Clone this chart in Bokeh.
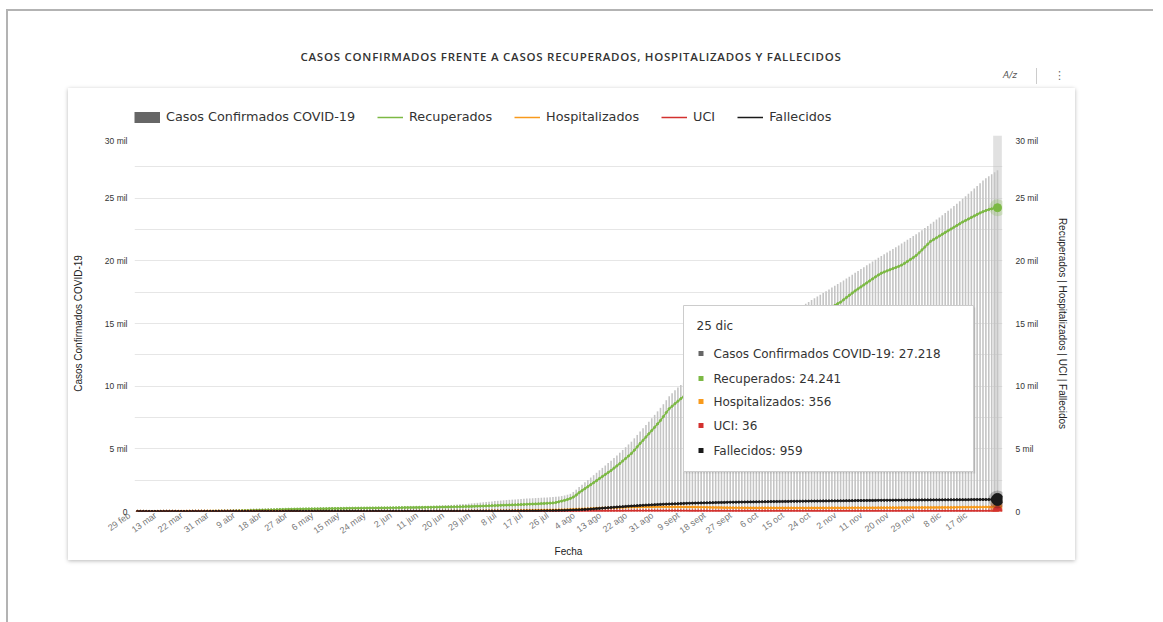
import pandas as pd
from bokeh.plotting import figure
from bokeh.models import (Range1d, LinearAxis, FixedTicker, CustomJSTickFormatter, Legend,
                          LegendItem, BoxAnnotation, Label, Div, ColumnDataSource)
from bokeh.layouts import column
from bokeh.embed import file_html
from bokeh.resources import INLINE

# ---------------- data ----------------
MESES = {1: "ene", 2: "feb", 3: "mar", 4: "abr", 5: "may", 6: "jun", 7: "jul",
         8: "ago", 9: "sept", 10: "oct", 11: "nov", 12: "dic"}
fechas = ["29 feb"] + [f"{d.day} {MESES[d.month]}" for d in pd.date_range("2020-03-05", "2020-12-25")]

confirmados = (
    [1, 1, 2, 2, 3, 5, 6, 8, 10, 12, 15, 18, 22, 26, 31, 36, 42, 48, 55, 62, 70, 78, 86, 95, 104, 112, 121, 130]
    + [138, 146, 153, 160, 168, 175, 181, 187, 193, 199, 205, 210, 215, 220, 225, 229, 233, 237, 241, 245,
       248, 251, 254, 257, 260, 263, 265, 268, 270, 272]
    + [274, 276, 278, 280, 282, 284, 286, 288, 290, 292, 294, 296, 298, 300, 302, 304, 306, 308, 310, 313,
       316, 319, 322, 325, 328, 331, 334, 338, 342, 346, 350]
    + [355, 360, 366, 372, 378, 385, 392, 400, 408, 416, 425, 434, 444, 454, 465, 476, 488, 500, 513, 527,
       541, 556, 572, 589, 607, 626, 646, 667, 689, 712]
    + [735, 758, 782, 806, 830, 852, 873, 893, 912, 930, 948, 965, 982, 998, 1013, 1028, 1043, 1057, 1071, 1085,
       1099, 1112, 1125, 1138, 1152, 1170, 1195, 1230, 1280, 1340, 1410]
    + [1560, 1740, 1950, 2140, 2330, 2520, 2710, 2900, 3090, 3290, 3480, 3670, 3860, 4050, 4260, 4470, 4690,
       4910, 5130, 5350, 5570, 5840, 6110, 6380, 6640, 6900, 7170, 7440, 7710, 7990, 8270]
    + [8560, 8880, 9200, 9440, 9670, 9890, 10100, 10290, 10470, 10650, 10820, 10980, 11140, 11300, 11460,
       11620, 11770, 11920, 12070, 12220, 12370, 12520, 12670, 12820, 12970, 13120, 13270, 13420, 13570, 13720]
    + [13870, 14010, 14160, 14300, 14440, 14580, 14720, 14870, 15010, 15150, 15290, 15440, 15580, 15720, 15860,
       16010, 16150, 16290, 16440, 16580, 16720, 16870, 17010, 17150, 17290, 17440, 17580, 17720, 17870, 18010, 18150]
    + [18290, 18440, 18590, 18740, 18890, 19040, 19190, 19340, 19490, 19640, 19790, 19940, 20090, 20240, 20390,
       20530, 20670, 20810, 20950, 21090, 21230, 21380, 21530, 21680, 21830, 21980, 22130, 22290, 22450, 22610]
    + [22780, 22950, 23120, 23290, 23460, 23640, 23820, 24000, 24180, 24370, 24560, 24750, 24950, 25150, 25350,
       25560, 25770, 25980, 26190, 26400, 26580, 26750, 26910, 27070, 27218]
)

recuperados = (
    [0, 0, 0, 0, 0, 0, 0, 0, 0, 0, 0, 0, 0, 0, 0, 1, 1, 2, 3, 4, 5, 6, 8, 10, 12, 15, 18, 21]
    + [25, 29, 33, 38, 43, 48, 54, 60, 66, 72, 78, 85, 92, 99, 106, 113, 120, 127, 134, 141,
       148, 155, 161, 167, 173, 179, 185, 190, 195, 200]
    + [204, 208, 212, 216, 220, 223, 226, 229, 232, 235, 238, 241, 244, 247, 250, 253, 256, 259, 262, 265,
       268, 271, 274, 277, 280, 283, 286, 289, 292, 295, 298]
    + [301, 304, 307, 310, 313, 316, 319, 322, 325, 328, 331, 334, 337, 340, 344, 348, 352, 356, 360, 365,
       370, 375, 380, 386, 392, 398, 405, 412, 420, 428]
    + [436, 445, 454, 463, 472, 481, 490, 499, 508, 517, 526, 535, 545, 555, 565, 575, 585, 596, 607, 618,
       630, 642, 655, 668, 682, 720, 770, 830, 890, 960, 1040]
    + [1150, 1310, 1500, 1660, 1820, 1980, 2140, 2300, 2460, 2630, 2790, 2950, 3110, 3270, 3460, 3640, 3830,
       4030, 4230, 4430, 4630, 4890, 5160, 5430, 5680, 5940, 6200, 6460, 6720, 6990, 7260]
    + [7570, 7890, 8200, 8400, 8600, 8800, 9000, 9170, 9330, 9500, 9650, 9800, 9950, 10100, 10250,
       10400, 10540, 10680, 10820, 10960, 11100, 11240, 11380, 11520, 11660, 11800, 11940, 12080, 12220, 12360]
    + [12490, 12620, 12760, 12890, 13020, 13160, 13290, 13430, 13560, 13700, 13830, 13970, 14100, 14240, 14370,
       14510, 14640, 14780, 14920, 15050, 15190, 15320, 15460, 15600, 15740, 15880, 16020, 16160, 16300, 16440, 16580]
    + [16700, 16890, 17070, 17250, 17430, 17600, 17760, 17920, 18080, 18240, 18400, 18560, 18720, 18870, 19010,
       19110, 19200, 19290, 19380, 19470, 19560, 19660, 19800, 19950, 20100, 20250, 20420, 20640, 20870, 21100]
    + [21330, 21560, 21700, 21840, 21980, 22120, 22260, 22400, 22540, 22680, 22820, 22960, 23100, 23220, 23340,
       23460, 23580, 23700, 23820, 23920, 24010, 24090, 24150, 24200, 24241]
)

hospitalizados = (
    [0, 0, 0, 0, 1, 1, 2, 2, 3, 4, 5, 6, 7, 8, 10, 11, 12, 14, 15, 16, 18, 19, 20, 21, 22, 23, 24, 25]
    + [26, 26, 27, 27, 28, 28, 28, 27, 27, 26, 26, 25, 24, 23, 22, 21, 20, 19, 18, 17, 16, 15, 14, 13, 12,
       12, 11, 10, 10, 9]
    + [9, 8, 8, 7, 7, 7, 6, 6, 6, 5, 5, 5, 5, 4, 4, 4, 4, 4, 4, 5, 5, 5, 5, 6, 6, 6, 6, 7, 7, 7, 8]
    + [8, 8, 9, 9, 10, 10, 11, 11, 12, 12, 13, 14, 14, 15, 16, 17, 18, 19, 20, 21, 22, 23, 24, 26, 28,
       30, 32, 34, 36, 38]
    + [40, 42, 44, 46, 48, 50, 52, 54, 56, 58, 61, 64, 67, 70, 73, 76, 79, 82, 86, 90, 94, 98, 102, 107, 112,
       118, 124, 131, 138, 146, 155]
    + [164, 174, 184, 195, 206, 217, 228, 239, 250, 261, 271, 281, 290, 299, 307, 315, 322, 329, 335, 341,
       346, 351, 355, 359, 362, 365, 367, 369, 370, 371, 372]
    + [372, 371, 370, 369, 367, 365, 363, 360, 357, 354, 351, 347, 343, 339, 335, 331, 327, 323, 319, 315,
       311, 308, 305, 302, 299, 297, 295, 293, 291, 290]
    + [289, 288, 287, 286, 285, 285, 284, 284, 283, 283, 283, 282, 282, 282, 282, 281, 281, 281, 281, 281,
       282, 282, 282, 283, 283, 284, 284, 285, 286, 287, 288]
    + [289, 290, 291, 292, 293, 294, 295, 296, 297, 298, 299, 300, 301, 302, 303, 304, 305, 306, 307, 308,
       309, 310, 311, 312, 313, 314, 315, 316, 317, 318]
    + [319, 320, 321, 322, 323, 324, 325, 326, 327, 328, 330, 332, 334, 336, 338, 340, 342, 344, 346, 348,
       350, 352, 353, 355, 356]
)

uci = (
    [0, 0, 0, 0, 0, 0, 0, 0, 0, 1, 1, 1, 1, 2, 2, 2, 2, 3, 3, 3, 3, 4, 4, 4, 4, 5, 5, 5]
    + [5, 5, 6, 6, 6, 6, 6, 6, 6, 5, 5, 5, 5, 5, 4, 4, 4, 4, 4, 3, 3, 3, 3, 3, 3, 2, 2, 2, 2, 2]
    + [2, 2, 2, 2, 2, 1, 1, 1, 1, 1, 1, 1, 1, 1, 1, 1, 1, 1, 1, 1, 1, 1, 1, 1, 1, 1, 1, 1, 2, 2, 2]
    + [2, 2, 2, 2, 2, 2, 3, 3, 3, 3, 3, 3, 3, 4, 4, 4, 4, 4, 4, 5, 5, 5, 5, 5, 6, 6, 6, 6, 7, 7]
    + [7, 7, 8, 8, 8, 9, 9, 9, 10, 10, 10, 11, 11, 12, 12, 13, 13, 14, 14, 15, 16, 16, 17, 18, 19,
       20, 21, 22, 23, 24, 25]
    + [26, 28, 29, 31, 32, 34, 35, 37, 38, 40, 41, 43, 44, 45, 46, 47, 48, 49, 50, 51, 52, 52, 53, 53, 54,
       54, 55, 55, 55, 55, 55]
    + [55, 54, 54, 53, 53, 52, 52, 51, 50, 49, 48, 47, 46, 45, 44, 43, 42, 41, 40, 40, 39, 38, 38, 37, 37,
       36, 36, 35, 35, 35]
    + [34, 34, 34, 33, 33, 33, 33, 32, 32, 32, 32, 32, 32, 31, 31, 31, 31, 31, 31, 31, 31, 31, 31, 31, 31,
       31, 31, 31, 31, 31, 31]
    + [31, 31, 31, 32, 32, 32, 32, 32, 32, 32, 33, 33, 33, 33, 33, 33, 33, 33, 33, 34, 34, 34, 34, 34, 34,
       34, 34, 34, 35, 35]
    + [35, 35, 35, 35, 35, 35, 35, 35, 35, 35, 36, 36, 36, 36, 36, 36, 36, 36, 36, 36, 36, 36, 36, 36, 36]
)

fallecidos = (
    [0, 0, 0, 0, 0, 0, 0, 0, 0, 0, 0, 0, 0, 0, 0, 0, 0, 0, 0, 1, 1, 1, 1, 2, 2, 2, 3, 3]
    + [3, 3, 4, 4, 4, 5, 5, 5, 6, 6, 6, 7, 7, 7, 7, 8, 8, 8, 8, 9, 9, 9, 9, 9, 10, 10, 10, 10, 10, 10]
    + [10, 10, 11, 11, 11, 11, 11, 11, 11, 12, 12, 12, 12, 12, 12, 12, 12, 12, 13, 13, 13, 13, 13, 13, 13,
       13, 13, 13, 14, 14, 14]
    + [14, 14, 14, 14, 15, 15, 15, 15, 15, 15, 16, 16, 16, 16, 16, 17, 17, 17, 17, 18, 18, 18, 19, 19, 19,
       20, 20, 21, 21, 22]
    + [22, 23, 23, 24, 25, 25, 26, 27, 28, 29, 30, 31, 32, 34, 36, 38, 40, 42, 44, 47, 50, 53, 56, 60, 64,
       69, 74, 80, 87, 95, 104]
    + [114, 125, 137, 150, 164, 179, 195, 212, 230, 248, 266, 284, 302, 320, 337, 354, 371, 388, 404, 420,
       436, 451, 466, 480, 494, 507, 520, 532, 544, 556, 567]
    + [578, 588, 598, 607, 616, 625, 633, 641, 649, 656, 663, 670, 677, 683, 689, 695, 701, 707, 712, 717,
       722, 727, 732, 737, 741, 745, 749, 753, 757, 761]
    + [765, 769, 772, 776, 779, 782, 785, 788, 791, 794, 797, 800, 803, 806, 809, 812, 815, 817, 820, 823,
       826, 829, 831, 834, 837, 840, 842, 845, 848, 850, 853]
    + [856, 858, 861, 863, 866, 868, 871, 873, 876, 878, 881, 883, 886, 888, 890, 893, 895, 897, 900, 902,
       904, 906, 909, 911, 913, 915, 917, 919, 921, 923]
    + [925, 927, 929, 931, 933, 934, 936, 937, 939, 940, 942, 943, 944, 945, 947, 948, 949, 950, 951, 952,
       954, 955, 956, 958, 959]
)

for serie in (confirmados, recuperados, hospitalizados, uci, fallecidos):
    assert len(serie) == len(fechas), (len(serie), len(fechas))

TITULO = "CASOS CONFIRMADOS FRENTE A CASOS RECUPERADOS, HOSPITALIZADOS Y FALLECIDOS"
nombres = ["Casos Confirmados COVID-19", "Recuperados", "Hospitalizados", "UCI", "Fallecidos"]
y_ticks = [0, 5000, 10000, 15000, 20000, 25000, 30000]
y_minor = [2500, 7500, 12500, 17500, 22500, 27500]

# ---------------- style ----------------
FONT = "Liberation Sans"
FONT_W = "DejaVu Sans"
C_BAR = "#c4c4c4"
C_BAR_LEG = "#666666"
C_REC = "#7cb944"
C_HOS = "#f89a1c"
C_UCI = "#d3312f"
C_FAL = "#1a1a1a"

FX0, FX1, FY0, FY1 = 134, 1002, 135, 511     # page position of the plot frame
XR = (-1.03, 297.72)
YR = (y_ticks[0], y_ticks[-1])


def px_x(px):
    return XR[0] + (px - FX0) / (FX1 - FX0) * (XR[1] - XR[0])


def px_y(py):
    return YR[0] + (FY1 - py) / (FY1 - FY0) * (YR[1] - YR[0])


idx = list(range(len(fechas)))
src = ColumnDataSource(dict(x=idx, conf=confirmados, rec=recuperados, hos=hospitalizados,
                            uci=uci, fal=fallecidos))

# ---------------- legend strip (own small figure on top of the card) ----------------
lg = figure(width=1007, height=47, x_range=Range1d(0, 1), y_range=Range1d(0, 1),
            x_axis_type=None, y_axis_type=None, output_backend="svg", toolbar_location=None,
            min_border=0, min_border_left=66, min_border_right=73, min_border_top=0,
            min_border_bottom=0)
lg.outline_line_color = None
lg.xgrid.visible = False
lg.ygrid.visible = False
lg.border_fill_color = "white"
leg_items = []
for nm, col, lw in [(nombres[0], C_BAR_LEG, 11), (nombres[1], C_REC, 1.5), (nombres[2], C_HOS, 1.5),
                    (nombres[3], C_UCI, 1.5), (nombres[4], C_FAL, 1.5)]:
    r = lg.line(x=[-1], y=[-1], line_color=col, line_width=lw)   # legend swatch only
    leg_items.append(LegendItem(label=nm, renderers=[r]))
legend = Legend(items=leg_items, orientation="horizontal", location=(0, 11), margin=0, padding=3,
                glyph_width=26, glyph_height=12, label_height=12, label_standoff=6, spacing=22,
                label_text_font=FONT_W, label_text_font_size="12.8px", label_text_color="#333333",
                border_line_color=None, background_fill_alpha=0)
lg.add_layout(legend)

# ---------------- main chart ----------------
p = figure(width=1007, height=425, x_range=Range1d(*XR), y_range=Range1d(*YR),
           output_backend="svg", toolbar_location=None,
           min_border=0, min_border_left=66, min_border_right=73, min_border_top=0,
           min_border_bottom=49)
p.outline_line_color = None
p.background_fill_color = "white"
p.border_fill_color = "white"

last = idx[-1]
# hover crosshair band on the last date
p.add_layout(BoxAnnotation(left=last - 1.5, right=last + 1.5, bottom=YR[0], top=YR[1],
                           fill_color="#bdbdbd", fill_alpha=0.45, line_color=None, level="underlay"))

# bars
p.vbar(x="x", top="conf", source=src, width=0.55, fill_color=C_BAR, line_color=None)

# lines with small markers
for key, col in [("rec", C_REC), ("hos", C_HOS), ("uci", C_UCI), ("fal", C_FAL)]:
    p.line("x", key, source=src, line_color=col, line_width=1.5)
    p.scatter("x", key, source=src, size=2.2, fill_color=col, line_color=col)

# highlighted last points
for vals, col, big, halo in [(recuperados, C_REC, 8, 17), (hospitalizados, C_HOS, 8, 16),
                             (uci, C_UCI, 9, 18), (fallecidos, C_FAL, 12, 18)]:
    p.scatter([last], [vals[-1]], size=halo, fill_color=col, fill_alpha=0.25, line_color=None)
    p.scatter([last], [vals[-1]], size=big, fill_color=col, line_color=col)

# axes
y_ticker = FixedTicker(ticks=y_ticks, minor_ticks=y_minor)
y_fmt = CustomJSTickFormatter(code="return tick == 0 ? '0' : (tick/1000) + ' mil';")
p.yaxis.ticker = y_ticker
p.yaxis.formatter = y_fmt
p.yaxis.axis_label = nombres[0]
p.ygrid.ticker = y_ticker
p.ygrid.grid_line_color = "#e6e6e6"
p.ygrid.minor_grid_line_color = "#e6e6e6"
p.xgrid.grid_line_color = None

ax_r = LinearAxis(ticker=y_ticker, formatter=y_fmt,
                  axis_label="Recuperados | Hospitalizados | UCI | Fallecidos")
p.add_layout(ax_r, "right")

p.xaxis.ticker = FixedTicker(ticks=idx[::9])
p.xaxis.formatter = CustomJSTickFormatter(
    args=dict(labels=fechas),
    code="const t = labels[Math.round(tick)]; "
         "return t ? t + '\\u00a0\\u00a0\\u00a0\\u00a0' : '';")
p.xaxis.major_label_orientation = 0.62
p.xaxis.axis_label = "Fecha"

for ax in p.axis:
    ax.axis_line_color = None
    ax.major_tick_line_color = None
    ax.minor_tick_line_color = None
    ax.major_tick_out = 0
    ax.major_tick_in = 0
    ax.minor_tick_out = 0
    ax.minor_tick_in = 0
    ax.major_label_text_font = FONT
    ax.axis_label_text_font = FONT
    ax.axis_label_text_font_style = "normal"
    ax.axis_label_text_color = "#222222"
    ax.axis_label_text_font_size = "10px"

p.yaxis.major_label_text_font_size = "8.5px"
p.yaxis.major_label_text_color = "#333333"
p.yaxis[0].major_label_standoff = 7
p.yaxis[0].axis_label_standoff = 18
ax_r.major_label_standoff = 13
ax_r.axis_label_standoff = 16
p.xaxis.major_label_text_font_size = "9px"
p.xaxis.major_label_text_color = "#777777"
p.xaxis.major_label_standoff = -3
p.xaxis.axis_label_standoff = 3

# tooltip (static hover box for the last date)
TT_L, TT_R, TT_T, TT_B = 683, 973, 305, 471
p.add_layout(BoxAnnotation(left=px_x(TT_L + 1), right=px_x(TT_R + 2), top=px_y(TT_T + 2),
                           bottom=px_y(TT_B + 2), fill_color="black", fill_alpha=0.08,
                           line_color=None))
p.add_layout(BoxAnnotation(left=px_x(TT_L), right=px_x(TT_R), top=px_y(TT_T), bottom=px_y(TT_B),
                           fill_color="white", fill_alpha=1.0, line_color="#cccccc",
                           line_width=1, line_alpha=1.0))


def fmt(v):
    return f"{v:,}".replace(",", ".")


p.add_layout(Label(x=px_x(696), y=px_y(325), text=fechas[-1], text_font=FONT_W,
                   text_font_size="12px", text_color="#333333", text_baseline="middle"))
rows = [(nombres[0], confirmados[-1], C_BAR_LEG), (nombres[1], recuperados[-1], C_REC),
        (nombres[2], hospitalizados[-1], C_HOS), (nombres[3], uci[-1], C_UCI),
        (nombres[4], fallecidos[-1], C_FAL)]
row_y = [353, 378, 401, 425, 450]
for (nm, v, col), ry in zip(rows, row_y):
    p.add_layout(BoxAnnotation(left=px_x(698), right=px_x(703), top=px_y(ry - 2.5),
                               bottom=px_y(ry + 2.5), fill_color=col, fill_alpha=1.0,
                               line_color=None))
    p.add_layout(Label(x=px_x(713), y=px_y(ry), text=f"{nm}: {fmt(v)}", text_font=FONT_W,
                       text_font_size="12px", text_color="#333333", text_baseline="middle"))

# header: title and icons
header_html = f"""
<div style="position:relative;width:1145px;height:77px;">
  <div style="position:absolute;left:0px;top:38px;width:1126px;text-align:center;
       font-family:'Open Sans';font-weight:600;font-size:11.5px;letter-spacing:0.75px;line-height:16px;
       color:#333;white-space:nowrap;">{TITULO}</div>
  <div style="position:absolute;left:995px;top:58px;font-family:'DejaVu Sans';font-size:9px;
       font-style:italic;color:#555;">A/z</div>
  <div style="position:absolute;left:1028px;top:57px;width:1px;height:16px;background:#cccccc;"></div>
  <div style="position:absolute;left:1046px;top:57px;font-family:'DejaVu Sans';font-size:11px;color:#666;">&#8942;</div>
</div>
"""
header = Div(text=header_html, width=1145, height=77, margin=(0, 0, 0, 0))

card = column(lg, p, margin=(0, 0, 62, 60),
              styles={"box-shadow": "0px 1px 4px rgba(0,0,0,0.28)", "background-color": "white"})

root = column(header, card, margin=(9, 0, 0, 6),
              styles={"border-top": "2px solid #b3b3b3", "border-left": "2px solid #b3b3b3"})

open("out.html", "w").write(file_html(root, INLINE))
